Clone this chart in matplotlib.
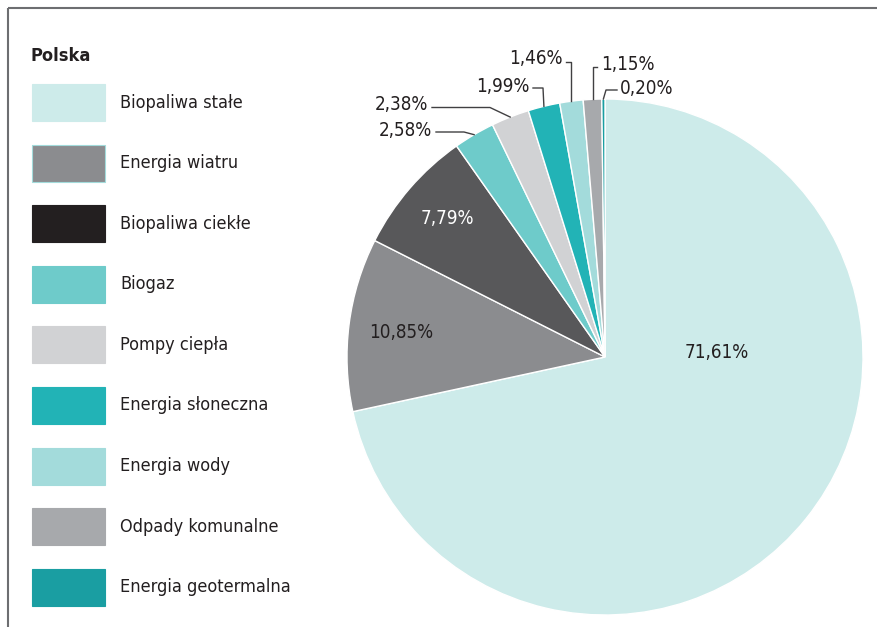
import numpy as np
import matplotlib
matplotlib.use("Agg")
import matplotlib.pyplot as plt
from matplotlib.patches import Rectangle

categories = ["Biopaliwa stałe", "Energia wiatru", "Biopaliwa ciekłe", "Biogaz",
              "Pompy ciepła", "Energia słoneczna", "Energia wody",
              "Odpady komunalne", "Energia geotermalna"]
values = [71.61, 10.85, 7.79, 2.58, 2.38, 1.99, 1.46, 1.15, 0.20]
labels = ["71,61%", "10,85%", "7,79%", "2,58%", "2,38%", "1,99%", "1,46%", "1,15%", "0,20%"]

pie_colors = ["#cdebea", "#8b8c8f", "#58585a", "#6ecbca", "#d1d2d4",
              "#22b3b6", "#a3dbdb", "#a7a9ac", "#1a9ea2"]
legend_colors = ["#cdebea", "#8b8c8f", "#231f20", "#6ecbca", "#d1d2d4",
                 "#22b3b6", "#a3dbdb", "#a7a9ac", "#1a9ea2"]

plt.rcParams['font.family'] = ['DejaVu Sans']
plt.rcParams['font.stretch'] = 'condensed'

W, H = 877, 627
fig = plt.figure(figsize=(W / 100, H / 100), dpi=100)
ax = fig.add_axes([0, 0, 1, 1])

def Y(y):
    return H - y

cx, cy, R = 605, 357, 258
wedges, _ = ax.pie(values, colors=pie_colors, startangle=90, counterclock=False,
                   center=(cx, Y(cy)), radius=R,
                   wedgeprops=dict(edgecolor="white", linewidth=1.0))
ax.set_xlim(0, W)
ax.set_ylim(0, H)
ax.set_aspect('auto')
ax.axis('off')

# frame lines
ax.plot([8, W], [Y(8), Y(8)], color="#6d6e71", lw=1.5, solid_capstyle='butt')
ax.plot([8, 8], [Y(8), 0], color="#6d6e71", lw=1.5, solid_capstyle='butt')

txt = "#231f20"
FS_LEG = 13
FS = 13.5
# legend
ax.text(30, Y(56), "Polska", fontsize=FS_LEG, fontweight='bold', color=txt, va='center', ha='left',
        fontstretch='condensed')
for i, (c, name) in enumerate(zip(legend_colors, categories)):
    yc = 102.5 + i * 60.6
    ax.add_patch(Rectangle((32, Y(yc + 18.5)), 73, 37, facecolor=c,
                           edgecolor=("#a3dbdb" if i == 1 else c), lw=0.8))
    ax.text(120, Y(yc), name, fontsize=FS_LEG, color=txt, va='center', ha='left',
            fontstretch='condensed')

cum = np.cumsum([0] + values)
tot = sum(values)
def anchor(i, r=R):
    th = np.deg2rad((cum[i] + values[i] / 2) / tot * 360)
    return cx + r * np.sin(th), cy - r * np.cos(th)

def label(x, y, s, ha, color=txt):
    ax.text(x, Y(y), s, fontsize=FS, color=color, ha=ha, va='center', fontstretch='condensed')

label(717, 352, labels[0], 'center')
label(401, 333, labels[1], 'center')
label(447, 218, labels[2], 'center', color="white")

lc = "#414042"
def leader(pts):
    ax.plot([p[0] for p in pts], [Y(p[1]) for p in pts], color=lc, lw=1.0)

label(432, 131, labels[3], 'right')
leader([(436, 132), (464, 132), anchor(3)])
label(428, 105, labels[4], 'right')
leader([(432, 107.5), (490, 107.5), anchor(4)])
label(529, 86, labels[5], 'right')
leader([(533, 88), (543, 88), anchor(5)])
label(563, 58, labels[6], 'right')
a = anchor(6)
leader([(566, 62), (571, 62), (571, a[1])])
label(601, 64, labels[7], 'left')
a = anchor(7)
leader([(597, 67), (593, 67), (593, a[1])])
label(620, 89, labels[8], 'left')
leader([anchor(8), (606, 90), (617, 90)])

fig.savefig("out.png", dpi=100)
